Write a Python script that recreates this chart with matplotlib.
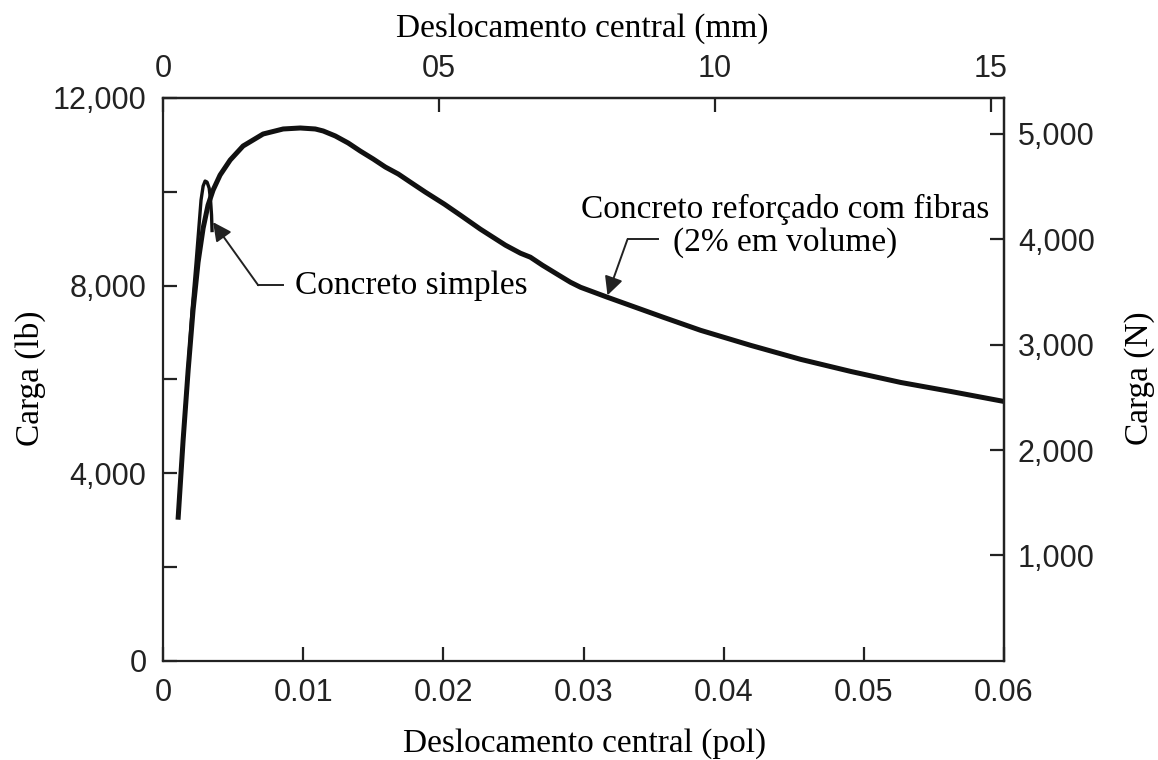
import matplotlib
matplotlib.use("Agg")
import matplotlib.pyplot as plt
from matplotlib.ticker import FuncFormatter

# Concreto reforçado com fibras: deslocamento (pol) x carga (lb)
fibra_x = [0.00107, 0.00143, 0.00179, 0.00214, 0.00250, 0.00286, 0.00321,
           0.00357, 0.00407, 0.00479, 0.00571, 0.00714, 0.00857, 0.00979,
           0.01086, 0.01143, 0.01229, 0.01321, 0.01407, 0.01500, 0.01586,
           0.01679, 0.01764, 0.01871, 0.02007, 0.02121, 0.02264,
           0.02443, 0.02550, 0.02621, 0.02707, 0.02836, 0.02907, 0.02979,
           0.03171, 0.03571, 0.03836, 0.04193, 0.04550, 0.04907, 0.05264,
           0.05621, 0.06000]
fibra_y = [3011, 4698, 6193, 7474, 8499, 9225, 9716,
           10036, 10357, 10677, 10976, 11232, 11339, 11360,
           11339, 11296, 11190, 11040, 10869, 10698, 10528,
           10378, 10207, 9994, 9737, 9503, 9204,
           8862, 8691, 8606, 8435, 8200, 8072, 7965,
           7752, 7324, 7047, 6727, 6428, 6171, 5936,
           5744, 5531]

# Concreto simples
simples_x = [0.00107, 0.00143, 0.00179, 0.00207, 0.00236, 0.00257, 0.00271,
             0.00286, 0.00300, 0.00314, 0.00329, 0.00339, 0.00346, 0.00350]
simples_y = [3032, 4698, 6235, 7474, 8499, 9289, 9823,
             10122, 10229, 10207, 10079, 9823, 9503, 9139]

lb_ticks = [0, 2000, 4000, 6000, 8000, 10000, 12000]
n_ticks = [1000, 2000, 3000, 4000, 5000]
pol_ticks = [0, 0.01, 0.02, 0.03, 0.04, 0.05, 0.06]
pol_labels = ["0", "0.01", "0.02", "0.03", "0.04", "0.05", "0.06"]
mm_ticks = [0, 0.5, 1.0, 1.5]
mm_labels = ["0", "05", "10", "15"]

# escala do eixo direito tal como impressa (valores em N / 10)
LB_PARA_N = 0.444822
POL_PARA_MM = 25.4

serif = "Liberation Serif"
sans = "Liberation Sans"
tick_cor = "#222222"
linha_cor = "#111111"

fig = plt.figure(figsize=(11.58, 7.6), dpi=100)
ax = fig.add_axes([0.1408, 0.1303, 0.7262, 0.7408])

ax.plot(fibra_x, fibra_y, color=linha_cor, lw=3.6, solid_capstyle="butt",
        solid_joinstyle="round")
ax.plot(simples_x, simples_y, color=linha_cor, lw=2.4, solid_capstyle="butt",
        solid_joinstyle="round")

ax.set_xlim(0, 0.06)
ax.set_ylim(0, 12000)

ax.set_xticks(pol_ticks, labels=pol_labels)
ax.set_yticks(lb_ticks)
ax.yaxis.set_major_formatter(FuncFormatter(
    lambda v, p: f"{v:,.0f}" if v % 4000 == 0 else ""))

for s in ax.spines.values():
    s.set_linewidth(1.6)
    s.set_color("#222222")

ax.tick_params(axis="both", direction="in", length=10, width=1.6,
               labelsize=22, labelcolor=tick_cor, color="#222222")
ax.tick_params(axis="x", pad=12)
ax.tick_params(axis="y", pad=12)
for lbl in ax.get_xticklabels() + ax.get_yticklabels():
    lbl.set_fontfamily(sans)

# eixos secundários em mm e N
sec_x = ax.secondary_xaxis("top", functions=(lambda x: x * POL_PARA_MM,
                                             lambda x: x / POL_PARA_MM))
sec_x.set_xticks(mm_ticks, labels=mm_labels)
sec_x.tick_params(direction="in", length=10, width=1.6, labelsize=22,
                  labelcolor=tick_cor, color="#222222", pad=10)
sec_x.spines["top"].set_linewidth(1.6)

sec_y = ax.secondary_yaxis("right", functions=(lambda y: y * LB_PARA_N,
                                               lambda y: y / LB_PARA_N))
sec_y.set_yticks(n_ticks)
sec_y.yaxis.set_major_formatter(FuncFormatter(lambda v, p: f"{v:,.0f}"))
sec_y.tick_params(direction="in", length=10, width=1.6, labelsize=22,
                  labelcolor=tick_cor, color="#222222", pad=10)
sec_y.spines["right"].set_linewidth(1.6)
for lbl in sec_x.get_xticklabels() + sec_y.get_yticklabels():
    lbl.set_fontfamily(sans)

# títulos dos eixos
fig.text(0.505, 0.021, "Deslocamento central (pol)", fontsize=24,
         family=serif, ha="center", va="center")
fig.text(0.5026, 0.962, "Deslocamento central (mm)", fontsize=24,
         family=serif, ha="center", va="center")
fig.text(0.026, 0.502, "Carga (lb)", fontsize=24, family=serif,
         rotation=90, ha="center", va="center")
fig.text(0.984, 0.502, "Carga (N)", fontsize=24, family=serif,
         rotation=90, ha="center", va="center")

# anotações com setas
seta = dict(arrowstyle="-|>", mutation_scale=28, lw=1.4, color="#222222",
            shrinkA=0, shrinkB=0)

ax.plot([0.00857, 0.00679], [8008, 8008], color="#222222", lw=1.4)
ax.annotate("", xy=(0.00357, 9353), xytext=(0.00679, 8008), arrowprops=seta)
ax.text(0.00943, 7990, "Concreto simples", fontsize=24, family=serif,
        ha="left", va="center")

ax.plot([0.03529, 0.03314], [8990, 8990], color="#222222", lw=1.4)
ax.annotate("", xy=(0.03171, 7794), xytext=(0.03314, 8990), arrowprops=seta)
ax.text(0.04436, 9280, "Concreto reforçado com fibras\n(2% em volume)",
        fontsize=24, family=serif, ha="center", va="center",
        linespacing=1.1, multialignment="center")

fig.savefig("out.png", dpi=100)
